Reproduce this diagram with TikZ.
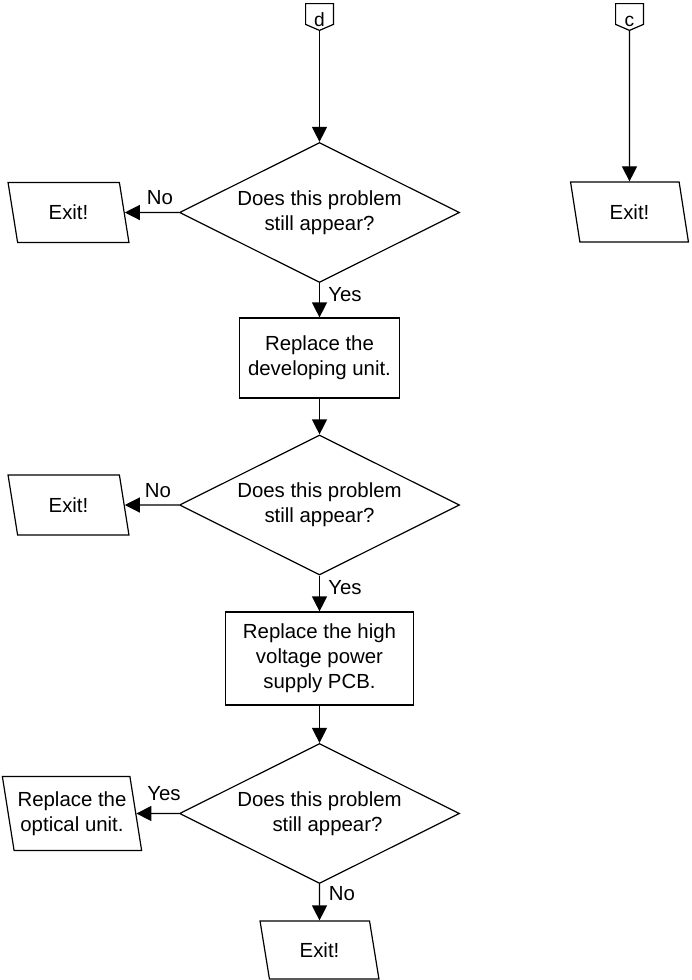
\documentclass[tikz,border=0pt]{standalone}
\usepackage{fontspec}
\setmainfont{Liberation Sans}
\usetikzlibrary{shapes.geometric,arrows.meta,calc}
\begin{document}
\begin{tikzpicture}[x=0.5pt,y=-0.5pt,
  every node/.style={font=\fontsize{10.2}{12.6}\selectfont},
  line/.style={line width=0.6pt},
  arr/.style={line width=0.6pt,-{Triangle[length=7.5pt,width=7.5pt]}},
  dec/.style={diamond, draw, line width=0.6pt, aspect=2, inner sep=0pt, minimum width=140pt, minimum height=70pt, align=center},
  proc/.style={rectangle, draw, line width=0.6pt, align=center, inner sep=0pt},
  io/.style={trapezium, trapezium left angle=104, trapezium right angle=76, trapezium stretches=true, draw, line width=0.6pt, align=center, inner sep=0pt},
  conbox/.style={rectangle, minimum width=13.5pt, minimum height=10pt, inner sep=0pt},
  lbl/.style={inner sep=0pt}
]
\useasboundingbox (0,0) rectangle (691,980);

% off-page connectors
\node[conbox] (cd) at (319.5,14) {};
\draw[line] (cd.north west) -- (cd.north east) -- (cd.south east) -- ($(cd.south)+(0,6)$) coordinate (cdtip) -- (cd.south west) -- cycle;
\node[lbl, anchor=base, font=\fontsize{9.6}{11}\selectfont] (cdl) at (319.5,26.5) {d};

\node[conbox] (cc) at (629.5,14) {};
\draw[line] (cc.north west) -- (cc.north east) -- (cc.south east) -- ($(cc.south)+(0,6)$) coordinate (cctip) -- (cc.south west) -- cycle;
\node[lbl, anchor=base, font=\fontsize{9.6}{11}\selectfont] (ccl) at (629.5,26.5) {c};

% decisions
\node[dec] (d1) at (319.5,212.5) {Does this problem\\still appear?};
\node[dec] (d2) at (319.5,505) {Does this problem\\still appear?};
\node[dec] (d3) at (319.5,813.5) {Does this problem\\\hspace*{8pt}still appear?};

% processes
\node[proc, minimum width=80pt, minimum height=40pt] (b1) at (319.5,358) {Replace the\\developing unit.};
\node[proc, minimum width=94pt, minimum height=46.5pt] (b2) at (319.5,658.5) {Replace the high\\voltage power\\supply PCB.};

% io shapes
\node[io, minimum width=60.5pt, minimum height=30pt] (e1) at (68.5,212.5) {Exit!};
\node[io, minimum width=59pt, minimum height=30pt] (er) at (629.5,212) {Exit!};
\node[io, minimum width=60.5pt, minimum height=30pt] (e2) at (68.5,505) {Exit!};
\node[io, minimum width=70pt, minimum height=37pt] (op) at (72,813.5) {Replace the\\optical unit.};
\node[io, minimum width=59.5pt, minimum height=29pt] (eb) at (319.5,950) {Exit!};

% connectors
\draw[arr] (cdtip) -- (d1.north);
\draw[arr] (cctip) -- (er);
\draw[arr] (d1.west) -- (e1);
\draw[arr] (d1.south) -- (b1.north);
\draw[arr] (b1.south) -- (d2.north);
\draw[arr] (d2.west) -- (e2);
\draw[arr] (d2.south) -- (b2.north);
\draw[arr] (b2.south) -- (d3.north);
\draw[arr] (d3.west) -- (op);
\draw[arr] (d3.south) -- (eb);

% labels
\node[lbl] (l1) at (160,198) {No};
\node[lbl] (l2) at (345,295) {Yes};
\node[lbl] (l3) at (158,491) {No};
\node[lbl] (l4) at (345,588) {Yes};
\node[lbl] (l5) at (164,794) {Yes};
\node[lbl] (l6) at (342,893.5) {No};
\end{tikzpicture}
\end{document}
